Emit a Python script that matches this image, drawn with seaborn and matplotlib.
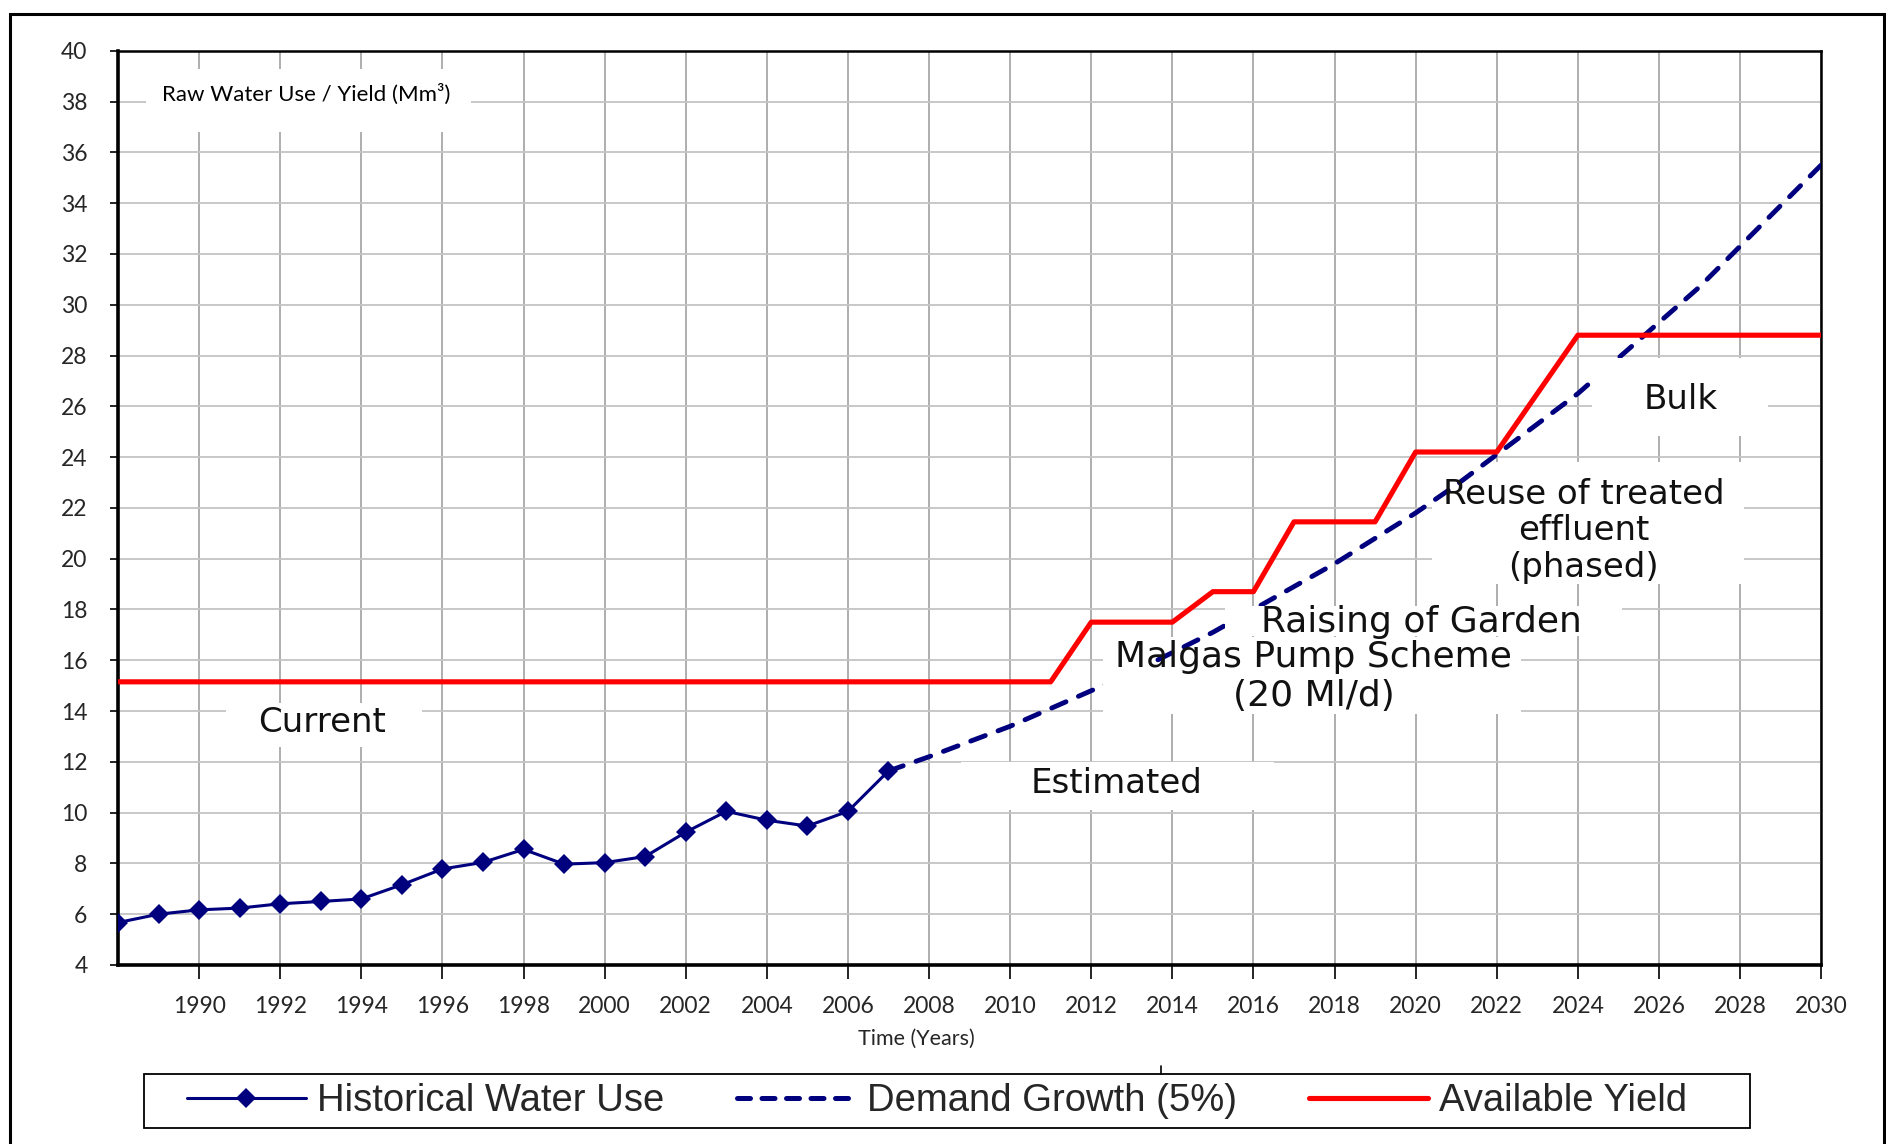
import numpy as np
import pandas as pd
import matplotlib.pyplot as plt
import seaborn as sns
from matplotlib.lines import Line2D
from matplotlib.patches import Rectangle

# values
hist_years = list(range(1988, 2008))
hist_use = [5.67, 6.0, 6.17, 6.24, 6.41, 6.5, 6.6, 7.16, 7.78, 8.04,
            8.55, 7.97, 8.03, 8.27, 9.23, 10.05, 9.7, 9.47, 10.05, 11.64]

demand_years = list(range(2007, 2031))
demand = [11.64, 12.2, 12.8, 13.4, 14.1, 14.8, 15.5, 16.3, 17.1, 18.0, 18.9, 19.8,
          20.8, 21.8, 22.9, 24.1, 25.3, 26.5, 27.9, 29.3, 30.7, 32.3, 33.9, 35.5]

yield_years = [1988, 2011, 2012, 2014, 2015, 2016, 2017, 2019, 2020, 2022, 2024, 2030]
yield_vals = [15.15, 15.15, 17.5, 17.5, 18.7, 18.7, 21.45, 21.45, 24.2, 24.2, 28.8, 28.8]

x_ticks = list(range(1990, 2031, 2))
y_ticks = list(range(4, 41, 2))

labels = [
    ("Current", 1993.04, 13.55, 24.5, 1.2),
    ("Estimated", 2012.62, 11.13, 24.5, 1.2),
    ("Malgas Pump Scheme\n(20 Ml/d)", 2017.48, 15.35, 26, 1.2),
    ("Raising of Garden", 2020.15, 17.49, 26, 1.2),
    ("Reuse of treated\neffluent\n(phased)", 2024.15, 21.1, 24.5, 1.13),
    ("Bulk", 2026.53, 26.27, 24.5, 1.2),
]

# white text-box backgrounds (x0, x1, y0, y1, drawn over the dashed line?)
text_boxes = [
    (1988.7, 1996.7, 36.8, 39.3, False),
    (1990.66, 1995.5, 12.6, 14.3, False),
    (2008.8, 2016.5, 10.1, 12.0, False),
    (2012.3, 2022.6, 15.9, 16.9, False),
    (2012.3, 2022.6, 13.9, 15.9, True),
    (2015.3, 2025.1, 16.95, 18.15, True),
    (2020.4, 2028.1, 19.0, 23.8, False),
    (2024.35, 2028.7, 24.85, 27.9, True),
]

df_hist = pd.DataFrame({"year": hist_years, "use": hist_use})
df_dem = pd.DataFrame({"year": demand_years, "use": demand})
df_yld = pd.DataFrame({"year": yield_years, "use": yield_vals})

sns.set_theme(style="white")
plt.rcParams['font.family'] = ['Lato', 'DejaVu Sans']

navy = "#00007f"
fig = plt.figure(figsize=(18.86, 11.44), dpi=100)
ax = fig.add_axes([0.0626, 0.1565, 0.903, 0.7991])

sns.lineplot(data=df_dem, x="year", y="use", ax=ax, color=navy, zorder=3)
dem_line = ax.lines[-1]
dem_line.set_linewidth(3.5)
dem_line.set_dashes((3.2, 2.8))
dem_line.set_dash_capstyle("round")

sns.lineplot(data=df_hist, x="year", y="use", ax=ax, color=navy, lw=2.2,
             marker="D", markersize=10.5, markeredgewidth=0, zorder=6)
sns.lineplot(data=df_yld, x="year", y="use", ax=ax, color="#ff0000", lw=3.7, zorder=6)

for x0, x1, y0, y1, above in text_boxes:
    ax.add_patch(Rectangle((x0, y0), x1 - x0, y1 - y0, fc="white", ec="none",
                           zorder=4 if above else 2))

ax.set_xlim(1988, 2030)
ax.set_ylim(4, 40)
ax.set_xticks(x_ticks)
ax.set_yticks(y_ticks)
ax.set_xlabel("")
ax.set_ylabel("")
ax.grid(axis="x", color="#a8a8a8", lw=1.3, zorder=0)
ax.grid(axis="y", color="#c4c4c4", lw=1.3, zorder=0)
ax.set_axisbelow(True)

ax.tick_params(axis="x", bottom=True, length=10, width=1.2, color="black",
               pad=12, labelsize=16.5)
ax.tick_params(axis="y", left=True, length=6, width=1.2, color="black",
               pad=16, labelsize=16.5)
for s in ["left", "bottom"]:
    ax.spines[s].set_linewidth(2.6)
    ax.spines[s].set_color("black")
for s in ["top", "right"]:
    ax.spines[s].set_linewidth(1.8)
    ax.spines[s].set_color("black")

for txt, x, y, fs, ls in labels:
    ax.text(x, y, txt, ha="center", va="center", fontsize=fs, family="DejaVu Sans",
            linespacing=ls, color="#111111", zorder=7)

ax.text(1989.09, 38.3, "Raw Water Use / Yield (Mm³)", ha="left", va="center",
        fontsize=16, color="black", zorder=7)

fig.text(0.486, 0.0916, "Time (Years)", ha="center", va="center", fontsize=15.5)

# legend
handles = [
    Line2D([], [], color=navy, lw=2.2, marker="D", markersize=10.5, markeredgewidth=0),
    Line2D([], [], color=navy, lw=3.6, dashes=(2.6, 2.3), dash_capstyle="round"),
    Line2D([], [], color="#ff0000", lw=3.7),
]
names = ["Historical Water Use", "Demand Growth (5%)", "Available Yield"]
fig.legend(handles, names, loc="center", bbox_to_anchor=(0.497, 0.0376), ncol=3,
           frameon=False, handlelength=3.1, handletextpad=0.3, columnspacing=1.9,
           prop={"family": "Liberation Sans", "size": 27.5})
fig.patches.append(Rectangle((0.0764, 0.014), 0.8515, 0.0472, transform=fig.transFigure,
                             fill=False, ec="black", lw=1.3))
fig.lines.append(Line2D([1161 / 1886, 1161 / 1886], [0.061, 0.068],
                        transform=fig.transFigure, color="black", lw=1.2))

# outer frame
fig.patches.append(Rectangle((10 / 1886, -0.05), 1874 / 1886, 1.05 - 14 / 1144,
                             transform=fig.transFigure, fill=False, ec="black", lw=2.2))

fig.savefig("out.png", dpi=100)
